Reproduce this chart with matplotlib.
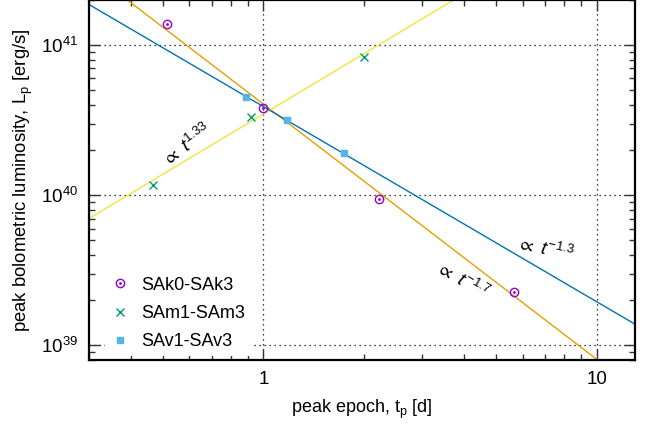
import numpy as np
import matplotlib
matplotlib.use("Agg")
import matplotlib.pyplot as plt
from matplotlib.ticker import LogLocator, NullFormatter, FixedLocator, FixedFormatter

plt.rcParams['font.family'] = ['Liberation Sans', 'DejaVu Sans']
plt.rcParams['mathtext.fontset'] = 'custom'
plt.rcParams['mathtext.rm'] = 'Liberation Sans'
plt.rcParams['mathtext.it'] = 'Liberation Sans:italic'
plt.rcParams['mathtext.default'] = 'regular'

# data
sak_t = [0.513, 1.00, 2.22, 5.64]
sak_L = [1.38e41, 3.81e40, 9.5e39, 2.26e39]
sam_t = [0.466, 0.919, 2.00]
sam_L = [1.18e40, 3.31e40, 8.36e40]
sav_t = [0.889, 1.174, 1.74]
sav_L = [4.49e40, 3.16e40, 1.90e40]

# power-law fits: L = A * t^k
fit_k = [-1.7, 1.33, -1.3]
fit_A = [4.05e40, 3.48e40, 3.9e40]
fit_colors = ['#e69f00', '#f0e442', '#0072b2']

fig = plt.figure(figsize=(6.55, 4.24), dpi=100)
ax = fig.add_axes([0.136, 0.151, 0.833, 0.849])
ax.set_xscale('log')
ax.set_yscale('log')
ax.set_xlim(0.3, 13)
ax.set_ylim(8e38, 2e41)

tt = np.logspace(np.log10(0.3), np.log10(13), 200)
for k, A, c in zip(fit_k, fit_A, fit_colors):
    ax.plot(tt, A * tt**k, color=c, lw=1.0, zorder=2)

h1, = ax.plot(sak_t, sak_L, 'o', ms=6, mfc='none', mec='#9400d3', mew=1.0, ls='none', zorder=4)
h1b, = ax.plot(sak_t, sak_L, '.', ms=2, color='#9400d3', ls='none', zorder=4)
h2, = ax.plot(sam_t, sam_L, 'x', ms=5.5, color='#009e73', mew=1.0, ls='none', zorder=4)
h3, = ax.plot(sav_t, sav_L, 's', ms=5, color='#56b4e9', mec='#56b4e9', ls='none', zorder=4)

ax.grid(True, which='major', color='black', ls=(0, (1, 3)), lw=0.9)
ax.set_axisbelow(True)

ax.xaxis.set_major_locator(FixedLocator([1, 10]))
ax.xaxis.set_major_formatter(FixedFormatter(['1', '10']))
ax.xaxis.set_minor_locator(LogLocator(base=10, subs=np.arange(2, 10)))
ax.xaxis.set_minor_formatter(NullFormatter())
ax.yaxis.set_major_locator(FixedLocator([1e39, 1e40, 1e41]))
ax.yaxis.set_major_formatter(FixedFormatter([r'$10^{39}$', r'$10^{40}$', r'$10^{41}$']))
ax.yaxis.set_minor_locator(LogLocator(base=10, subs=np.arange(2, 10), numticks=20))
ax.yaxis.set_minor_formatter(NullFormatter())

ax.tick_params(which='both', direction='in', top=True, right=True, labelsize=13.5, width=1.0, color='#333333')
ax.tick_params(which='major', length=8, pad=8)
ax.tick_params(which='minor', length=4.5)
for s in ax.spines.values():
    s.set_linewidth(1.6)

ax.set_xlabel(r'peak epoch, t$_\mathrm{p}$ [d]', fontsize=13, labelpad=7)
ax.set_ylabel(r'peak bolometric luminosity, L$_\mathrm{p}$ [erg/s]', fontsize=13.3, labelpad=4)

ax.text(0.59, 2.15e40, r'$\propto$ $\mathit{t}^{\mathit{1.33}}$', fontsize=13.5, rotation=37,
        ha='center', va='center')
ax.text(7.0, 4.4e39, r'$\propto$ $\mathit{t}^{\mathit{-1.3}}$', fontsize=13.5, rotation=-12,
        ha='center', va='center')
ax.text(3.95, 2.7e39, r'$\propto$ $\mathit{t}^{\mathit{-1.7}}$', fontsize=13.5, rotation=-30,
        ha='center', va='center')

leg = ax.legend([(h1, h1b), h2, h3], ['SAk0-SAk3', 'SAm1-SAm3', 'SAv1-SAv3'],
                loc='lower left', bbox_to_anchor=(0.0, -0.033), fontsize=13,
                frameon=True, fancybox=False, edgecolor='none', facecolor='white',
                framealpha=1.0, handlelength=1.0, handletextpad=0.7, labelspacing=0.62,
                borderpad=0.3, borderaxespad=0.9)
leg.set_zorder(2.2)

fig.savefig('out.png', dpi=100)
